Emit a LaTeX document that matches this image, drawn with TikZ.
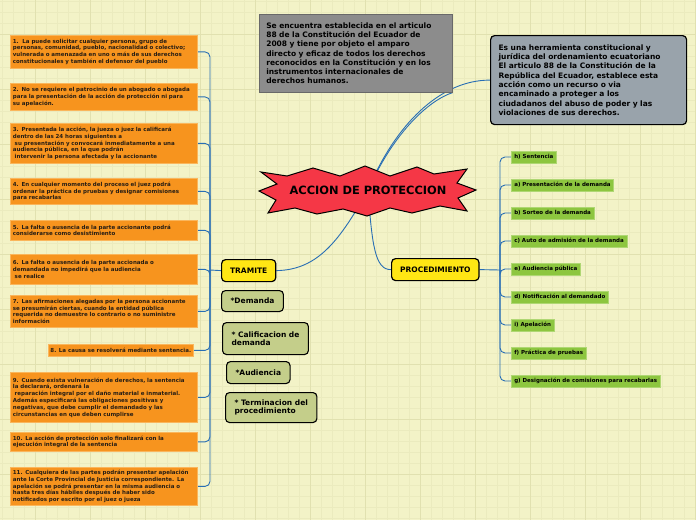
\documentclass[tikz,border=0pt]{standalone}
\usepackage{fontspec}
\setmainfont{DejaVu Sans}
\usepackage{tikz}
\usetikzlibrary{positioning, calc, backgrounds}
\definecolor{bgyellow}{RGB}{243,243,199}
\definecolor{gridminor}{RGB}{235,235,190}
\definecolor{gridmajor}{RGB}{225,225,176}
\definecolor{linkblue}{RGB}{40,110,180}
\definecolor{boxorange}{RGB}{247,148,30}
\definecolor{edgeorange}{RGB}{250,182,92}
\definecolor{textdark}{RGB}{40,30,20}
\definecolor{boxgrayA}{RGB}{140,140,140}
\definecolor{edgegrayA}{RGB}{105,105,105}
\definecolor{boxgrayB}{RGB}{153,163,171}
\definecolor{starred}{RGB}{245,55,70}
\definecolor{boxyellow}{RGB}{255,230,20}
\definecolor{boxolive}{RGB}{196,206,138}
\definecolor{boxgreen}{RGB}{141,198,63}
\definecolor{edgegreen}{RGB}{175,215,115}
\tikzset{
  basebox/.style={rectangle,align=left,font=\bfseries},
  pasobox/.style={basebox,fill=boxorange,draw=edgeorange,line width=0.8pt,text=textdark,
    anchor=north west,text width=182pt,inner xsep=2.5pt,inner ysep=1pt,font=\fontsize{5.5}{6.8}\selectfont\bfseries},
  notabox/.style={basebox,fill=boxgrayA,draw=edgegrayA,line width=0.6pt,anchor=north west,
    text width=179pt,inner xsep=7pt,font=\fontsize{7.5}{9.3}\selectfont\bfseries},
  ramabox/.style={basebox,fill=boxyellow,draw=black,line width=1.2pt,rounded corners=4pt,
    inner xsep=8.5pt,minimum height=22pt,font=\fontsize{7.5}{9}\selectfont\bfseries},
  etapabox/.style={basebox,fill=boxolive,draw=black,line width=1.1pt,rounded corners=4pt,
    anchor=north west,inner xsep=9pt,font=\fontsize{7.5}{8.6}\selectfont\bfseries},
  fasebox/.style={basebox,fill=boxgreen,draw=edgegreen,line width=0.6pt,anchor=west,
    inner xsep=3pt,minimum height=12pt,font=\fontsize{5.5}{6.5}\selectfont\bfseries},
  link/.style={draw=linkblue,line width=0.9pt},
  spine/.style={link,rounded corners=5pt}
}

\begin{document}
\begin{tikzpicture}[x=1pt,y=-1pt]
  \useasboundingbox (0,0) rectangle (696,520);

  %% central star
  \coordinate (hub) at (368,190);
  \fill[starred,draw=black,line width=1pt]
    (261,172) -- (287,176) -- (313,168) -- (340,176) -- (365,166) -- (390,176)
    -- (417,167) -- (434,174) -- (467,169) -- (457,183) -- (476,190) -- (458,198)
    -- (467,211) -- (440,206) -- (412,213) -- (390,208) -- (367,216) -- (343,209)
    -- (317,214) -- (295,208) -- (268,213) -- (276,200) -- (259,191) -- (277,184) -- cycle;
  \node[font=\fontsize{11.4}{13}\selectfont\bfseries] (accion) at (hub) {ACCION DE PROTECCION};

  %% definitions
  \node[notabox,minimum height=78pt] (articulo) at (259,14) {Se encuentra establecida en el articulo\\88 de la Constitución del Ecuador de\\2008 y tiene por objeto el amparo\\directo y eficaz de todos los derechos\\reconocidos en la Constitución y en los\\instrumentos internacionales de\\derechos humanos.};
  \node[notabox,fill=boxgrayB,draw=black,line width=1.2pt,rounded corners=4pt,
    text width=180pt,inner xsep=8pt,minimum height=89pt] (concepto) at (490,35) {Es una herramienta constitucional y\\jurídica del ordenamiento ecuatoriano\\El articulo 88 de la Constitución de la\\República del Ecuador, establece esta\\acción como un recurso o via\\encaminado a proteger a los\\ciudadanos del abuso de poder y las\\violaciones de sus derechos.};

  %% branches
  \node[ramabox,anchor=north west] (tramite) at (221,259) {TRAMITE};
  \node[ramabox,anchor=north west] (procedimiento) at (391,258) {PROCEDIMIENTO};

  %% stages of the tramite
  \node[etapabox,minimum height=21pt] (demanda) at (221,290) {*Demanda};
  \node[etapabox,minimum height=32pt] (calificacion) at (222,322) {* Calificacion de\\demanda};
  \node[etapabox,minimum height=22pt] (audiencia) at (226,361) {*Audiencia};
  \node[etapabox,minimum height=30pt] (terminacion) at (225,392) {* Terminacion del\\procedimiento};

  %% rules of the tramite
  \node[pasobox,minimum height=33pt] (paso1) at (10,35) {1.\ \ La puede solicitar cualquier persona, grupo de\\personas, comunidad, pueblo, nacionalidad o colectivo;\\vulnerada o amenazada en uno o más de sus derechos\\constitucionales y también el defensor del pueblo};
  \node[pasobox,minimum height=27pt] (paso2) at (10,83) {2. No se requiere el patrocinio de un abogado o abogada\\para la presentación de la acción de protección ni para\\su apelación.};
  \node[pasobox,minimum height=40pt] (paso3) at (10,123) {3. Presentada la acción, la jueza o juez la calificará\\dentro de las 24 horas siguientes a\\\ su presentación y convocará inmediatamente a una\\audiencia pública, en la que podrán\\\ intervenir la persona afectada y la accionante};
  \node[pasobox,minimum height=26pt] (paso4) at (10,178) {4. En cualquier momento del proceso el juez podrá\\ordenar la práctica de pruebas y designar comisiones\\para recabarlas};
  \node[pasobox,minimum height=20pt] (paso5) at (10,220) {5. La falta o ausencia de la parte accionante podrá\\considerarse como desistimiento};
  \node[pasobox,minimum height=30pt] (paso6) at (10,254) {6. La falta o ausencia de la parte accionada o\\demandada no impedirá que la audiencia\\\ se realice};
  \node[pasobox,minimum height=32pt] (paso7) at (10,295) {7. Las afirmaciones alegadas por la persona accionante\\se presumirán ciertas, cuando la entidad pública\\requerida no demuestre lo contrario o no suministre\\información};
  \node[pasobox,text width=,minimum height=12pt,anchor=north east] (paso8) at (194,344) {8. La causa se resolverá mediante sentencia.};
  \node[pasobox,minimum height=50pt] (paso9) at (10,372) {9. Cuando exista vulneración de derechos, la sentencia\\la declarará, ordenará la\\\ reparación integral por el daño material e inmaterial.\\Además especificará las obligaciones positivas y\\negativas, que debe cumplir el demandado y las\\circunstancias en que deben cumplirse};
  \node[pasobox,minimum height=19pt] (paso10) at (10,432) {10. La acción de protección solo finalizará con la\\ejecución integral de la sentencia};
  \node[pasobox,minimum height=38pt] (paso11) at (10,467) {11. Cualquiera de las partes podrán presentar apelación\\ante la Corte Provincial de Justicia correspondiente. La\\apelación se podrá presentar en la misma audiencia o\\hasta tres días hábiles después de haber sido\\notificados por escrito por el juez o jueza};

  %% phases of the procedimiento
  \node[fasebox] (sentencia) at (511,157) {h) Sentencia};
  \node[fasebox] (presentacion) at (511,185) {a) Presentación de la demanda};
  \node[fasebox] (sorteo) at (511,213) {b) Sorteo de la demanda};
  \node[fasebox] (auto) at (511,241) {c) Auto de admisión de la demanda};
  \node[fasebox] (audpublica) at (511,269) {e) Audiencia pública};
  \node[fasebox] (notificacion) at (511,297) {d) Notificación al demandado};
  \node[fasebox] (apelacion) at (511,325) {i) Apelación};
  \node[fasebox] (pruebas) at (511,353) {f) Práctica de pruebas};
  \node[fasebox] (designacion) at (511,381) {g) Designación de comisiones para recabarlas};

  \begin{scope}[on background layer]
    %% paper and grid
    \fill[bgyellow] (0,0) rectangle (696,520);
    \foreach \gx in {2,13,...,696} \draw[gridminor,line width=0.5pt] (\gx,0) -- (\gx,520);
    \foreach \gy in {1,12,...,520} \draw[gridminor,line width=0.5pt] (0,\gy) -- (696,\gy);
    \foreach \gx in {35,90,...,696} \draw[gridmajor,line width=0.6pt] (\gx,0) -- (\gx,520);
    \foreach \gy in {34,89,...,520} \draw[gridmajor,line width=0.6pt] (0,\gy) -- (696,\gy);

    %% links from the centre
    \draw[link] (hub) .. controls (340,240) and (318,270) .. (tramite.east);
    \draw[link] (hub) .. controls (372,245) and (375,270) .. (procedimiento.west);
    \draw[link] (hub) .. controls (395,125) and (440,80) .. (concepto.west);
    \draw[link] (hub) .. controls (395,130) and (430,100) .. (articulo.south east);

    %% left spine
    \coordinate (lspine) at (210,270);
    \draw[link] (tramite.west) -- (lspine);
    \foreach \p in {paso1,paso2,paso3,paso4,paso5,paso6,paso7,paso8,paso9,paso10,paso11}
      \draw[spine] (lspine) |- (\p.east);

    %% right spine
    \coordinate (rspine) at (500,270);
    \draw[link] (procedimiento.east) -- (rspine);
    \foreach \f in {sentencia,presentacion,sorteo,auto,audpublica,notificacion,apelacion,pruebas,designacion}
      \draw[spine] (rspine) |- (\f.west);
  \end{scope}
\end{tikzpicture}
\end{document}
